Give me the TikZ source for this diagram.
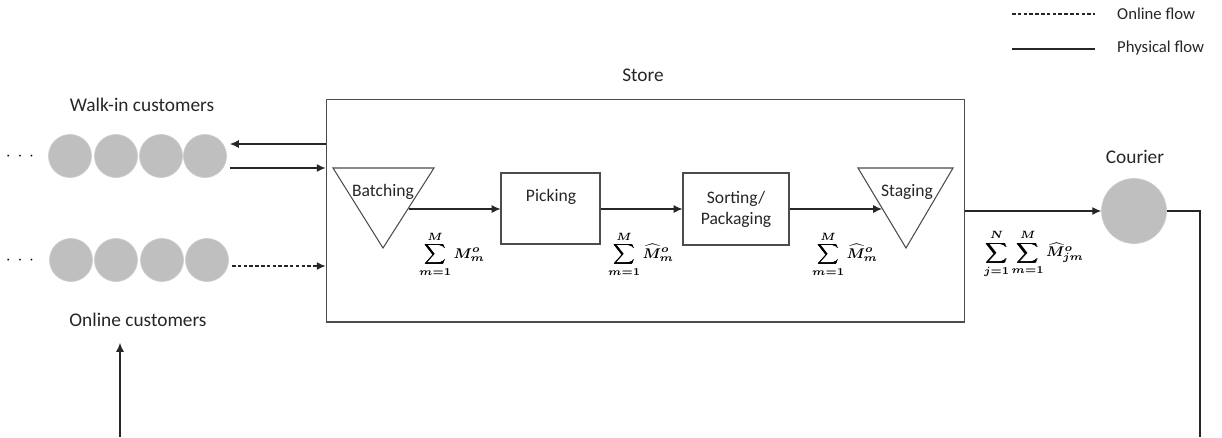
\documentclass[tikz,border=0pt]{standalone}
\usepackage{fontspec}
\setmainfont{Carlito}
\usepackage{amsmath}
\usepackage{bm}
\usetikzlibrary{arrows.meta,positioning}

\tikzset{
  cust/.style={circle, fill=gray!50, draw=gray!40, inner sep=0pt, minimum size=0.86cm},
  proctext/.style={align=center, font=\fontsize{10}{12}\selectfont, text=black!85},
  procbox/.style={proctext, draw=black!70, line width=0.6pt, inner sep=0pt},
  arr/.style={-{Latex[length=5pt,width=4.5pt]}, line width=0.6pt, black!85},
  online/.style={dash pattern=on 2pt off 1.3pt},
  lbl/.style={font=\fontsize{11}{13}\selectfont, text=black!85},
  legtext/.style={font=\fontsize{9.5}{11}\selectfont, text=black!85, anchor=west},
  flowsum/.style={font=\fontsize{8}{10}\selectfont}
}

\begin{document}
\begin{tikzpicture}[x=0.02cm, y=-0.02cm]
  \useasboundingbox (0,0) rectangle (1222,437);

  % legend
  \coordinate (legOa) at (1012,14);
  \coordinate (legOb) at (1095,14);
  \coordinate (legPa) at (1012,49);
  \coordinate (legPb) at (1095,49);
  \draw[online, line width=0.6pt, black!85] (legOa) -- (legOb);
  \draw[line width=0.6pt, black!85] (legPa) -- (legPb);
  \node[legtext] (legon) at (1111,14) {Online flow};
  \node[legtext] (legphys) at (1111,48) {Physical flow};

  % customers
  \node[lbl] (walkin) at (142,105) {Walk-in customers};
  \node (wdots) at (20,157) {$\cdot\,\cdot\,\cdot$};
  \foreach \i/\x in {1/70,2/116,3/161,4/205}
    \node[cust] (w\i) at (\x,156) {};
  \node (odots) at (20,261) {$\cdot\,\cdot\,\cdot$};
  \foreach \i/\x in {1/71,2/116,3/162,4/207}
    \node[cust] (o\i) at (\x,260) {};
  \node[lbl] (onlinecust) at (138,320) {Online customers};

  % store
  \node[draw=black!70, line width=0.6pt, minimum width=12.78cm, minimum height=4.46cm]
    (store) at (645.5,210.5) {};
  \node[lbl] (storelbl) at (643,75) {Store};

  % batching
  \draw[black!70, line width=0.6pt] (333,168) -- (434,168) -- (383,248) -- cycle;
  \node[proctext] (batch) at (383,192) {Batching};
  \coordinate (batchout) at (409,209);

  \node[procbox, minimum width=1.98cm, minimum height=1.42cm] (pick) at (550.5,208.5) {};
  \node[proctext] (picktxt) at (551,197) {Picking};

  \node[procbox, minimum width=2.12cm, minimum height=1.44cm] (sort) at (736,209)
    {Sorting/\\Packaging};

  % staging
  \draw[black!70, line width=0.6pt] (858,168) -- (953,168) -- (906,248) -- cycle;
  \node[proctext] (stage) at (907,192) {Staging};
  \coordinate (stagein) at (882,209);

  % courier
  \node[circle, fill=gray!50, draw=gray!40, inner sep=0pt, minimum size=1.3cm]
    (courier) at (1134,211) {};
  \node[lbl] (courierlbl) at (1135,157) {Courier};

  % flows
  \coordinate (wback) at (230,144);
  \coordinate (wout) at (230,168);
  \coordinate (oout) at (232,266);
  \draw[arr] (store.west |- wback) -- (wback);
  \draw[arr] (wout) -- (store.west |- wout);
  \draw[arr, online] (oout) -- (store.west |- oout);
  \draw[arr] (batchout) -- (pick.west |- batchout);
  \draw[arr] (pick.east |- batchout) -- (sort.west |- batchout);
  \draw[arr] (sort.east |- batchout) -- (stagein);
  \draw[arr] (store.east |- courier.west) -- (courier.west);

  \coordinate (rdown) at (1200,437);
  \draw[line width=0.6pt, black!85] (courier.east) -| (rdown);
  \coordinate (ldown) at (120,437);
  \coordinate (lup) at (120,343);
  \draw[arr] (ldown) -- (lup);

  % quantities
  \node[flowsum] (q1) at (452,254) {$\displaystyle\bm{\sum_{m=1}^{M} M^{o}_{m}}$};
  \node[flowsum] (q2) at (641,254) {$\displaystyle\bm{\sum_{m=1}^{M} \widehat{M}^{o}_{m}}$};
  \node[flowsum] (q3) at (845,254) {$\displaystyle\bm{\sum_{m=1}^{M} \widehat{M}^{o}_{m}}$};
  \node[flowsum] (q4) at (1034,254) {$\displaystyle\bm{\sum_{j=1}^{N}\sum_{m=1}^{M} \widehat{M}^{o}_{jm}}$};
\end{tikzpicture}
\end{document}
